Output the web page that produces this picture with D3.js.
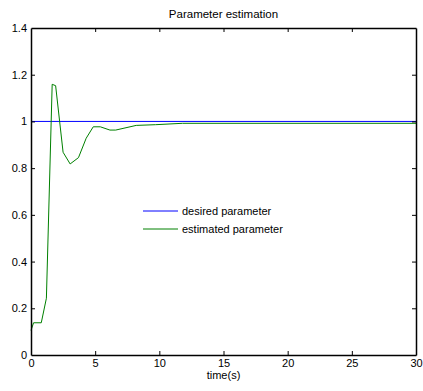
<!DOCTYPE html>
<html>
<head>
<meta charset="utf-8">
<script src="https://cdn.jsdelivr.net/npm/d3@7"></script>
<style>
  body { margin: 0; background: #fff; }
  svg { display: block; font-family: "Liberation Sans", Arial, sans-serif; }
</style>
</head>
<body>
<div id="chart"></div>
<script>
const width = 423, height = 391;
const margin = {top: 28, right: 7, bottom: 36, left: 31};

// data
const time = [0, 0.2, 0.8, 1.2, 1.65, 1.92, 2.5, 3.05, 3.7, 4.3, 4.85, 5.4, 6.15, 6.6, 8.2, 9.7, 11.8, 30];
const estimated = [0.105, 0.138, 0.138, 0.243, 1.159, 1.153, 0.868, 0.818, 0.845, 0.928, 0.977, 0.977, 0.963, 0.963, 0.983, 0.986, 0.992, 0.992];
const desiredTime = [0, 30];
const desired = [1, 1];
const xTicks = [0, 5, 10, 15, 20, 25, 30];
const yTicks = [0, 0.2, 0.4, 0.6, 0.8, 1, 1.2, 1.4];
const seriesNames = ["desired parameter", "estimated parameter"];
const seriesColors = ["#0000ff", "#008000"];

const svg = d3.select("#chart")
  .append("svg")
  .attr("width", width)
  .attr("height", height);

const x = d3.scaleLinear().domain([0, 30]).range([margin.left, width - margin.right]);
const y = d3.scaleLinear().domain([0, 1.4]).range([height - margin.bottom, margin.top]);

const line = d3.line().x(d => x(d[0])).y(d => y(d[1]));

// series
svg.append("path")
  .datum(d3.zip(desiredTime, desired))
  .attr("fill", "none")
  .attr("stroke", seriesColors[0])
  .attr("stroke-width", 1)
  .attr("d", line);

svg.append("path")
  .datum(d3.zip(time, estimated))
  .attr("fill", "none")
  .attr("stroke", seriesColors[1])
  .attr("stroke-width", 1)
  .attr("d", line);

// axes (ticks inward on all four sides)
const tickLen = 4;
const gx = svg.append("g")
  .attr("transform", `translate(0,${y(0)})`)
  .call(d3.axisBottom(x).tickValues(xTicks).tickSizeInner(-tickLen).tickSizeOuter(0).tickPadding(4).tickFormat(d3.format("d")));
const gxTop = svg.append("g")
  .attr("transform", `translate(0,${y(1.4)})`)
  .call(d3.axisTop(x).tickValues(xTicks).tickSizeInner(-tickLen).tickSizeOuter(0).tickFormat(""));
const gy = svg.append("g")
  .attr("transform", `translate(${x(0)},0)`)
  .call(d3.axisLeft(y).tickValues(yTicks).tickSizeInner(-tickLen).tickSizeOuter(0).tickPadding(4).tickFormat(d => d3.format("")(+d.toFixed(1))));
const gyRight = svg.append("g")
  .attr("transform", `translate(${x(30)},0)`)
  .call(d3.axisRight(y).tickValues(yTicks).tickSizeInner(-tickLen).tickSizeOuter(0).tickFormat(""));

[gx, gxTop, gy, gyRight].forEach(g => {
  g.selectAll(".domain").attr("stroke", "#000").attr("stroke-width", 1.5);
  g.selectAll(".tick line").attr("stroke", "#000");
  g.selectAll("text").attr("fill", "#000").style("font-size", "11px").style("font-family", "Liberation Sans, Arial, sans-serif");
});
// skip the end ticks that sit on the frame
gx.selectAll(".tick line").filter(d => d === 0 || d === 30).remove();
gxTop.selectAll(".tick line").filter(d => d === 0 || d === 30).remove();
gy.selectAll(".tick line").filter(d => d === 0 || d === 1.4).remove();
gyRight.selectAll(".tick line").filter(d => d === 0 || d === 1.4).remove();

// title and label
svg.append("text")
  .attr("x", (margin.left + width - margin.right) / 2)
  .attr("y", 18)
  .attr("text-anchor", "middle")
  .style("font-size", "11.5px")
  .text("Parameter estimation");

svg.append("text")
  .attr("x", (margin.left + width - margin.right) / 2)
  .attr("y", 379)
  .attr("text-anchor", "middle")
  .style("font-size", "11px")
  .text("time(s)");

// legend
const legend = svg.append("g").attr("transform", "translate(143,211)");
seriesNames.forEach((name, i) => {
  const row = legend.append("g").attr("transform", `translate(0,${i * 18})`);
  row.append("line")
    .attr("x1", 0).attr("x2", 35)
    .attr("stroke", seriesColors[i]).attr("stroke-width", 1);
  row.append("text")
    .attr("x", 39)
    .attr("y", 4)
    .style("font-size", "11px")
    .text(name);
});
</script>
</body>
</html>
